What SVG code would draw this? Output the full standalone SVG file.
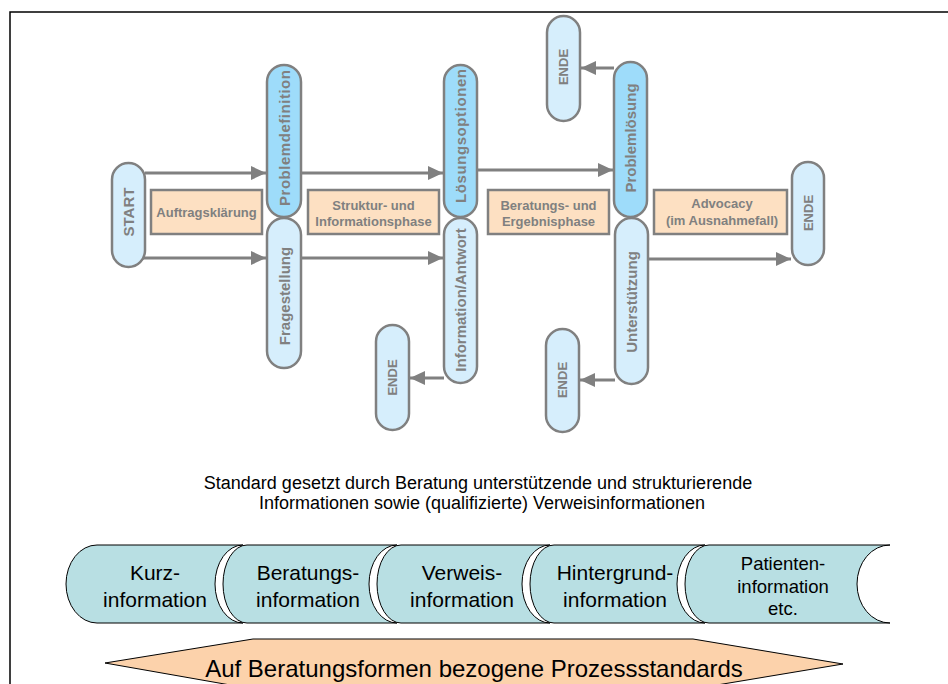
<svg xmlns="http://www.w3.org/2000/svg" width="948" height="684" viewBox="0 0 948 684">
<style>
.pill{stroke:#808080;stroke-width:2.5}
.lt{fill:#d6eefc}
.dk{fill:#9edcfa}
.vt{font-family:"Liberation Sans",Arial,sans-serif;font-weight:bold;font-size:15px;fill:#808080;text-anchor:middle}
.et{font-family:"Liberation Sans",Arial,sans-serif;font-weight:bold;font-size:13px;fill:#808080;text-anchor:middle}
.box{fill:#fde0c2;stroke:#808080;stroke-width:2.5}
.bt{font-family:"Liberation Sans",Arial,sans-serif;font-weight:bold;font-size:13px;fill:#808080;text-anchor:middle}
.conn{stroke:#808080;stroke-width:3;fill:none}
.seg{fill:#b8dfe3;stroke:#000;stroke-width:1}
.st{font-family:"Liberation Sans",Arial,sans-serif;font-size:21px;fill:#000;text-anchor:middle}
.st2{font-family:"Liberation Sans",Arial,sans-serif;font-size:18.5px;fill:#000;text-anchor:middle}
.mt{font-family:"Liberation Sans",Arial,sans-serif;font-size:18px;fill:#000;text-anchor:middle}
</style>
<defs>
<marker id="ah" markerUnits="userSpaceOnUse" markerWidth="16" markerHeight="14" refX="15" refY="7" orient="auto">
<path d="M0,0 L15,7 L0,14 Z" fill="#808080"/>
</marker>
</defs>
<rect x="0" y="0" width="948" height="684" fill="#fff"/>
<rect x="10" y="12" width="960" height="700" fill="none" stroke="#000" stroke-width="1.5"/>

<g id="connectors">
<path class="conn" d="M145,173 H266" marker-end="url(#ah)"/>
<path class="conn" d="M143,258 H266" marker-end="url(#ah)"/>
<path class="conn" d="M301,173 H443" marker-end="url(#ah)"/>
<path class="conn" d="M301,258 H443" marker-end="url(#ah)"/>
<path class="conn" d="M477,170 H613" marker-end="url(#ah)"/>
<path class="conn" d="M614,68 H581" marker-end="url(#ah)"/>
<path class="conn" d="M648,259 H791" marker-end="url(#ah)"/>
<path class="conn" d="M444,378 H410" marker-end="url(#ah)"/>
<path class="conn" d="M615,380 H580" marker-end="url(#ah)"/>
</g>

<g id="start"><rect class="pill lt" x="112" y="163" width="33" height="104" rx="16.5"/><text class="vt" font-size="14" transform="translate(128.5,212) rotate(-90)" dy="5">START</text></g>
<g id="problemdefinition"><rect class="pill dk" x="267" y="65" width="34" height="152" rx="17"/><text class="vt" transform="translate(284,138) rotate(-90)" dy="5.5" textLength="136" lengthAdjust="spacing">Problemdefinition</text></g>
<g id="fragestellung"><rect class="pill lt" x="267" y="218" width="34" height="150" rx="17"/><text class="vt" transform="translate(284,296) rotate(-90)" dy="5.5">Fragestellung</text></g>
<g id="loesungsoptionen"><rect class="pill dk" x="444" y="65" width="33" height="152" rx="16.5"/><text class="vt" transform="translate(460.5,136) rotate(-90)" dy="5.5" textLength="134" lengthAdjust="spacing">Lösungsoptionen</text></g>
<g id="information-antwort"><rect class="pill lt" x="444" y="218" width="33" height="165" rx="16.5"/><text class="vt" transform="translate(460.5,300) rotate(-90)" dy="5.5">Information/Antwort</text></g>
<g id="problemloesung"><rect class="pill dk" x="614" y="62" width="33" height="155" rx="16.5"/><text class="vt" transform="translate(630.5,138) rotate(-90)" dy="5.5">Problemlösung</text></g>
<g id="unterstuetzung"><rect class="pill lt" x="615" y="218" width="33" height="166" rx="16.5"/><text class="vt" transform="translate(631.5,302) rotate(-90)" dy="5.5">Unterstützung</text></g>
<g id="ende1"><rect class="pill lt" x="547" y="16" width="33" height="105" rx="16.5"/><text class="et" transform="translate(563.5,67) rotate(-90)" dy="4.5">ENDE</text></g>
<g id="ende2"><rect class="pill lt" x="792" y="162" width="32" height="103" rx="16"/><text class="et" transform="translate(808,213) rotate(-90)" dy="4.5">ENDE</text></g>
<g id="ende3"><rect class="pill lt" x="376" y="325" width="33" height="105" rx="16.5"/><text class="et" transform="translate(392.5,377.5) rotate(-90)" dy="4.5">ENDE</text></g>
<g id="ende4"><rect class="pill lt" x="546" y="329" width="33" height="103" rx="16.5"/><text class="et" transform="translate(562.5,380) rotate(-90)" dy="4.5">ENDE</text></g>

<g id="auftragsklaerung"><rect class="box" x="151" y="190" width="111" height="44"/><text class="bt" x="206.5" y="217">Auftragsklärung</text></g>
<g id="struktur"><rect class="box" x="308" y="190" width="131" height="44"/><text class="bt" x="373.5" y="210">Struktur- und</text><text class="bt" x="373.5" y="226">Informationsphase</text></g>
<g id="beratung"><rect class="box" x="488" y="190" width="121" height="44"/><text class="bt" x="548.5" y="210">Beratungs- und</text><text class="bt" x="548.5" y="226">Ergebnisphase</text></g>
<g id="advocacy"><rect class="box" x="654" y="190" width="133" height="44"/><text class="bt" x="722" y="208">Advocacy</text><text class="bt" x="722" y="225">(im Ausnahmefall)</text></g>

<g id="standard-text">
<text class="mt" x="478" y="489">Standard gesetzt durch Beratung unterstützende und strukturierende</text>
<text class="mt" x="482" y="509">Informationen sowie (qualifizierte) Verweisinformationen</text>
</g>

<g id="seg1"><path class="seg" d="M97,545 H243 A28,39 0 0 0 215,584 A28,39 0 0 0 243,623 H97 A31,39 0 0 1 66,584 A31,39 0 0 1 97,545 Z"/><text class="st" x="155" y="580">Kurz-</text><text class="st" x="155" y="607">information</text></g>
<g id="seg2"><path class="seg" d="M247,545 H397 A28,39 0 0 0 369,584 A28,39 0 0 0 397,623 H247 A24,39 0 0 1 223,584 A24,39 0 0 1 247,545 Z"/><text class="st" x="308" y="580">Beratungs-</text><text class="st" x="308" y="607">information</text></g>
<g id="seg3"><path class="seg" d="M401,545 H550 A28,39 0 0 0 522,584 A28,39 0 0 0 550,623 H401 A24,39 0 0 1 377,584 A24,39 0 0 1 401,545 Z"/><text class="st" x="462" y="580">Verweis-</text><text class="st" x="462" y="607">information</text></g>
<g id="seg4"><path class="seg" d="M554,545 H705 A28,39 0 0 0 677,584 A28,39 0 0 0 705,623 H554 A24,39 0 0 1 530,584 A24,39 0 0 1 554,545 Z"/><text class="st" x="615" y="580">Hintergrund-</text><text class="st" x="615" y="607">information</text></g>
<g id="seg5"><path class="seg" d="M709,545 H890 A33,39 0 0 0 857,584 A33,39 0 0 0 890,623 H709 A24,39 0 0 1 685,584 A24,39 0 0 1 709,545 Z"/><text class="st2" x="783" y="570">Patienten-</text><text class="st2" x="783" y="593">information</text><text class="st2" x="783" y="615">etc.</text></g>

<g id="prozessstandards"><path d="M105,663 L253,639 L693,639 L843,664 L693,689 L253,689 Z" fill="#fcd2ab" stroke="#000" stroke-width="1"/><text x="474" y="677" font-family="Liberation Sans,Arial,sans-serif" font-size="24" text-anchor="middle" fill="#000">Auf Beratungsformen bezogene Prozessstandards</text></g>
</svg>
